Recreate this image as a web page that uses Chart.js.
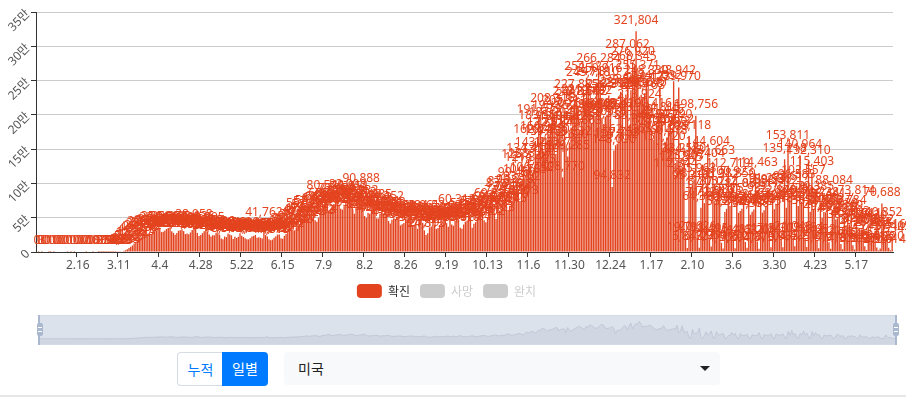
<!DOCTYPE html>
<html lang="ko">
<head>
<meta charset="utf-8">
<script src="https://cdn.jsdelivr.net/npm/chart.js@4.4.1/dist/chart.umd.min.js"></script>
<style>
  body { margin: 0; width: 906px; height: 398px; overflow: hidden; background: #fff;
         font-family: "Noto Sans CJK KR", "Noto Sans", sans-serif; }
  #main { position: absolute; left: 0; top: 0; }
  #zoomBox { position: absolute; left: 38px; top: 315px; width: 859px; height: 30px;
             background: #dce2ec; border: 1px solid #d3dae6; box-sizing: border-box; }
  #mini { position: absolute; left: 0; top: 0; }
  .edge { position: absolute; top: 315px; width: 2px; height: 30px; background: #a9b8cf; }
  .handle { position: absolute; top: 323px; width: 6px; height: 13px; background: #a9b8cf; border-radius: 2px; }
  .handle::before, .handle::after { content: ""; position: absolute; left: 1px; width: 4px; height: 1px; background: #fff; }
  .handle::before { top: 4px; }
  .handle::after { top: 8px; }
  .btn { position: absolute; top: 352px; height: 34px; line-height: 33px; text-align: center;
         font-size: 14px; box-sizing: border-box; }
  #cum { left: 177px; width: 46px; color: #007bff; background: #fff; border: 1px solid #d6dce3;
         border-right: none; border-radius: 4px 0 0 4px; }
  #daily { left: 222px; width: 46px; color: #fff; background: #007bff; border-radius: 0 4px 4px 0; }
  #country { position: absolute; left: 284px; top: 352px; width: 436px; height: 33px; background: #f8f9fa;
             border-radius: 4px; font-size: 14px; line-height: 32px; padding-left: 14px; box-sizing: border-box; color: #222; }
  #caret { position: absolute; right: 10px; top: 14px; width: 0; height: 0;
           border-left: 5px solid transparent; border-right: 5px solid transparent; border-top: 5px solid #222; }
  #rule { position: absolute; left: 0; top: 395px; width: 906px; height: 2px; background: #e6e6e6; }
</style>
</head>
<body>
<canvas id="main" width="906" height="310"></canvas>
<div id="zoomBox"><canvas id="mini" width="857" height="28"></canvas></div>
<div class="edge" style="left:38px"></div>
<div class="edge" style="left:895px"></div>
<div class="handle" style="left:37px"></div>
<div class="handle" style="left:893px"></div>
<div class="btn" id="cum">누적</div>
<div class="btn" id="daily">일별</div>
<div id="country">미국<span id="caret"></span></div>
<div id="rule"></div>
<script>
// daily confirmed cases, USA (one array per month)
const jan2020 = [0, 1, 0, 3, 0, 0, 0, 1, 1];
const feb2020 = [0, 1, 0, 0, 0, 0, 0, 0, 0, 1, 0, 1, 0, 1, 0, 0, 0, 0, 0, 0, 2, 0, 0, 0, 18, 0, 0, 1, 8];
const mar2020 = [7, 23, 19, 33, 77, 53, 166, 116, 75, 188, 365, 439, 633, 1759, 2634, 3967, 5833, 7657, 9494, 12367,
  13995, 16873, 19238, 20618, 22102, 25821, 27691, 26452, 24913, 26350, 29742];
const apr2020 = [29398, 31073, 33964, 35226, 28937, 29616, 31205, 33584, 35062, 36141, 30298, 27941, 25306, 27619, 30987,
  31544, 33052, 30478, 26109, 27042, 25963, 28521, 31903, 38958, 35936, 27813, 23412, 24717, 27418, 30172];
const may2020 = [33905, 29611, 25528, 22632, 24533, 24317, 28006, 27317, 25367, 19710, 18546, 22632, 21742, 27143, 25476,
  24288, 18937, 22213, 20436, 22130, 27406, 23820, 21929, 20051, 18413, 18337, 20203, 22781, 23476, 24966, 20897];
const jun2020 = [21456, 20730, 19854, 41762, 24712, 22603, 18512, 17313, 18168, 20949, 22915, 25455, 25576, 19891, 19501,
  23517, 26092, 28907, 32353, 33021, 31302, 31646, 35330, 38774, 40972, 45346, 47563, 55128, 42292, 49217];
const jul2020 = [52892, 57188, 58374, 46412, 44293, 50012, 61298, 63107, 64591, 80542, 68791, 60532, 62989, 66302, 69847,
  76950, 77123, 69402, 63228, 61793, 66864, 71967, 83008, 79854, 73926, 62337, 55832, 64978, 70013, 72932, 90888];
const aug2020 = [67318, 52469, 49887, 57321, 55612, 61208, 66985, 58740, 49163, 48922, 56107, 57231, 55904, 64352, 56218,
  45321, 41608, 46917, 49203, 48114, 50362, 47205, 38941, 40617, 42358, 48123, 47769, 51284, 46019, 36312, 38927];
const sep2020 = [43127, 33864, 44709, 50961, 42587, 31455, 24812, 27190, 35806, 37214, 47563, 39820, 33716, 35092, 39288,
  38734, 44610, 47891, 42135, 36704, 52037, 39922, 38451, 45583, 60312, 46878, 35417, 33829, 40106, 44237];
const oct2020 = [45512, 54698, 49321, 35184, 41257, 43509, 50746, 57618, 58139, 54623, 46198, 43402, 51216, 58709, 63825,
  69337, 57592, 48163, 66291, 60447, 62718, 74102, 83919, 87345, 61246, 67510, 73896, 79204, 90218, 99450, 81627];
const nov2020 = [74213, 93502, 125316, 104785, 121340, 134410, 128117, 106452, 119385, 162048, 143281, 191673, 183550,
  166924, 135201, 159473, 162820, 172517, 187204, 208316, 196852, 143071, 172840, 176215, 181426, 108770, 205311,
  154620, 139285, 159832];
const dec2020 = [181426, 200563, 218231, 227885, 213117, 175663, 191023, 221374, 218562, 254127, 245718, 219432, 188205,
  199148, 198367, 247310, 266284, 250916, 195774, 186539, 197261, 199822, 228317, 194103, 94832, 148090, 155712,
  157753, 200419, 233567, 231183];
const jan2021 = [162437, 229813, 287062, 183546, 235817, 276920, 268345, 321804, 255371, 213924, 229488, 226103, 231645,
  248330, 238127, 200416, 177985, 163512, 177208, 184377, 194815, 241032, 191446, 151720, 160618, 167039, 174873,
  184290, 176552, 248942, 112344];
const feb2021 = [134218, 239970, 121845, 123907, 134530, 19731, 5843, 168118, 95316, 98247, 105963, 198756, 20626, 6127,
  64380, 127404, 71238, 87052, 144604, 18495, 7960, 131663, 71519, 75083, 87037, 96312, 13452, 4966];
const mar2021 = [58214, 62937, 112719, 67328, 100923, 16482, 5391, 98850, 57164, 59772, 63215, 84061, 14637, 6218, 75932,
  54386, 58627, 61943, 114463, 15208, 4873, 83617, 57395, 60831, 66402, 91277, 17840, 7104, 89536, 62418, 68925];
const apr2021 = [72840, 88412, 18307, 6935, 135218, 64592, 153811, 76324, 93617, 21046, 8429, 96583, 67218, 140964, 73502,
  102557, 19884, 7216, 132310, 58649, 115403, 62710, 79385, 16052, 5617, 70238, 49874, 58316, 57902, 68441];
const may2021 = [14206, 4918, 61527, 88084, 47392, 49215, 55038, 11762, 4105, 52369, 38914, 58784, 40127, 43503, 9846,
  3592, 73814, 29065, 31472, 32918, 40611, 8234, 2951, 37420, 23187, 26634, 27053, 30912, 6418, 2387, 5129];
const jun2021 = [70688, 40852, 17934, 24516, 6320, 2614, 21405];

// [month, first day, values]
const monthBlocks = [
  [1, 23, jan2020], [2, 1, feb2020], [3, 1, mar2020], [4, 1, apr2020], [5, 1, may2020], [6, 1, jun2020],
  [7, 1, jul2020], [8, 1, aug2020], [9, 1, sep2020], [10, 1, oct2020], [11, 1, nov2020], [12, 1, dec2020],
  [1, 1, jan2021], [2, 1, feb2021], [3, 1, mar2021], [4, 1, apr2021], [5, 1, may2021], [6, 1, jun2021]
];
const legendNames = ["확진", "사망", "완치"];
const yTicks = [0, 50000, 100000, 150000, 200000, 250000, 300000, 350000];
const labelEvery = 24;

const dates = [];
const cases = [];
monthBlocks.forEach(([m, d0, vals]) => {
  vals.forEach((v, k) => {
    dates.push(m + "." + (d0 + k));
    cases.push(v);
  });
});

const RED = "#e3441f";
Chart.defaults.font.family = '"Noto Sans", "Noto Sans CJK KR", sans-serif';
Chart.defaults.font.size = 12;

const barLabels = {
  id: "barLabels",
  afterDatasetsDraw(chart) {
    const ctx = chart.ctx;
    const meta = chart.getDatasetMeta(0);
    ctx.save();
    ctx.font = '12px "Noto Sans", sans-serif';
    ctx.fillStyle = RED;
    ctx.textAlign = "center";
    ctx.textBaseline = "bottom";
    meta.data.forEach((bar, i) => {
      ctx.fillText(cases[i].toLocaleString("en-US"), bar.x, bar.y - 5);
    });
    ctx.restore();
  }
};

new Chart(document.getElementById("main"), {
  type: "bar",
  data: {
    labels: dates,
    datasets: [
      { label: legendNames[0], data: cases, backgroundColor: RED, borderWidth: 0,
        categoryPercentage: 0.8, barPercentage: 1 },
      { label: legendNames[1], data: [], backgroundColor: "#ccc", hidden: true },
      { label: legendNames[2], data: [], backgroundColor: "#ccc", hidden: true }
    ]
  },
  options: {
    responsive: false,
    animation: false,
    events: [],
    layout: { padding: { top: 12, right: 13, bottom: 2, left: 0 } },
    plugins: {
      tooltip: { enabled: false },
      legend: {
        position: "bottom",
        labels: {
          boxWidth: 25,
          boxHeight: 14,
          padding: 10,
          useBorderRadius: true,
          borderRadius: 4,
          font: { size: 12, family: '"Noto Sans CJK KR", sans-serif' },
          generateLabels: chart => chart.data.datasets.map((ds, i) => ({
            text: ds.label,
            fillStyle: i === 0 ? RED : "#ccc",
            strokeStyle: i === 0 ? RED : "#ccc",
            lineWidth: 0,
            fontColor: i === 0 ? "#333" : "#ccc",
            hidden: false,
            borderRadius: 4,
            datasetIndex: i
          }))
        }
      }
    },
    scales: {
      x: {
        offset: true,
        grid: {
          offset: true,
          drawOnChartArea: false,
          drawTicks: true,
          tickLength: 5,
          color: c => (c.index > 0 && c.index % labelEvery === 0) ? "#333" : "rgba(0,0,0,0)"
        },
        border: { color: "#333" },
        ticks: {
          autoSkip: false,
          minRotation: 0,
          maxRotation: 0,
          padding: 1,
          color: "#555",
          callback: (v, i) => (i > 0 && i % labelEvery === 0) ? dates[i] : ""
        },
        afterFit: s => { s.height = 22; }
      },
      y: {
        min: 0,
        max: yTicks[yTicks.length - 1],
        afterBuildTicks: s => { s.ticks = yTicks.map(v => ({ value: v })); },
        grid: { color: "#ccc", tickColor: "#333", tickLength: 5 },
        border: { color: "#333" },
        ticks: {
          minRotation: 45,
          maxRotation: 45,
          padding: 3,
          color: "#555",
          callback: v => v === 0 ? "0" : (v / 10000) + "만"
        },
        afterFit: s => { s.width = 36; }
      }
    }
  },
  plugins: [barLabels]
});

// data shadow inside the zoom slider
const peak = Math.max(...cases);
const shadowPad = peak * 0.3;
new Chart(document.getElementById("mini"), {
  type: "line",
  data: {
    labels: dates,
    datasets: [{
      data: cases,
      borderColor: "#bfc8d6",
      borderWidth: 1,
      backgroundColor: "#d0d7e2",
      fill: "start",
      pointRadius: 0,
      tension: 0
    }]
  },
  options: {
    responsive: false,
    animation: false,
    events: [],
    layout: { padding: 0 },
    plugins: { legend: { display: false }, tooltip: { enabled: false } },
    scales: {
      x: { display: false, offset: false },
      y: { display: false, min: -shadowPad, max: peak + shadowPad }
    }
  }
});
</script>
</body>
</html>
